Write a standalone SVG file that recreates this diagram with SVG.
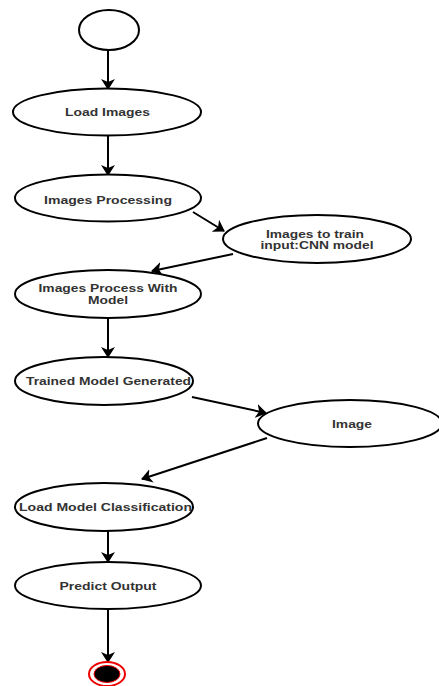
<svg xmlns="http://www.w3.org/2000/svg" width="439" height="686" viewBox="0 0 439 686">
<style>
.n{fill:#fff;stroke:#000;stroke-width:2}
.t{font-family:"Liberation Sans",Arial,sans-serif;font-weight:bold;font-size:11px;fill:#333;text-anchor:middle}
.c line{stroke:#000;stroke-width:2;fill:none}
</style>
<defs>
<marker id="a" viewBox="0 0 11 14" refX="10" refY="7" markerWidth="11" markerHeight="14" markerUnits="userSpaceOnUse" orient="auto">
<path d="M0,0 L11,7 L0,14 L3,7 z" fill="#000"/>
</marker>
</defs>
<rect width="439" height="686" fill="#fff"/>
<g class="c">
<line x1="108" y1="50" x2="108" y2="89" marker-end="url(#a)"/>
<line x1="108" y1="136" x2="108" y2="175" marker-end="url(#a)"/>
<line x1="193" y1="212" x2="224" y2="231" marker-end="url(#a)"/>
<line x1="233" y1="254" x2="152" y2="271" marker-end="url(#a)"/>
<line x1="108" y1="318" x2="108" y2="357" marker-end="url(#a)"/>
<line x1="192" y1="397" x2="266" y2="413" marker-end="url(#a)"/>
<line x1="267" y1="438" x2="142" y2="479" marker-end="url(#a)"/>
<line x1="108" y1="531" x2="108" y2="562" marker-end="url(#a)"/>
<line x1="108" y1="609" x2="108" y2="662" marker-end="url(#a)"/>
</g>
<g id="start"><ellipse class="n" cx="109" cy="30" rx="30" ry="20"/></g>
<g id="load-images"><ellipse class="n" cx="107" cy="112" rx="94" ry="23.5"/>
<text class="t" x="107.5" y="116" textLength="85" lengthAdjust="spacingAndGlyphs">Load Images</text></g>
<g id="images-processing"><ellipse class="n" cx="108" cy="198" rx="93" ry="23.5"/>
<text class="t" x="108" y="204" textLength="128" lengthAdjust="spacingAndGlyphs">Images Processing</text></g>
<g id="images-to-train"><ellipse class="n" cx="317" cy="239" rx="94" ry="24"/>
<text class="t" x="315" y="238" textLength="98" lengthAdjust="spacingAndGlyphs">Images to train</text>
<text class="t" x="317" y="249" textLength="113" lengthAdjust="spacingAndGlyphs">input:CNN model</text></g>
<g id="images-process-with-model"><ellipse class="n" cx="108" cy="294" rx="93" ry="24"/>
<text class="t" x="108" y="292" textLength="139" lengthAdjust="spacingAndGlyphs">Images Process With</text>
<text class="t" x="108" y="304" textLength="40" lengthAdjust="spacingAndGlyphs">Model</text></g>
<g id="trained-model-generated"><ellipse class="n" cx="104" cy="381" rx="89" ry="24"/>
<text class="t" x="108.5" y="385" textLength="165" lengthAdjust="spacingAndGlyphs">Trained Model Generated</text></g>
<g id="image"><ellipse class="n" cx="350" cy="423.5" rx="92" ry="23.5"/>
<text class="t" x="352" y="428" textLength="40" lengthAdjust="spacingAndGlyphs">Image</text></g>
<g id="load-model-classification"><ellipse class="n" cx="104" cy="507" rx="89" ry="24"/>
<text class="t" x="105.5" y="511" textLength="173" lengthAdjust="spacingAndGlyphs">Load Model Classification</text></g>
<g id="predict-output"><ellipse class="n" cx="108" cy="585.5" rx="93" ry="23.5"/>
<text class="t" x="108" y="590" textLength="97" lengthAdjust="spacingAndGlyphs">Predict Output</text></g>
<g id="end"><ellipse cx="107" cy="674" rx="18" ry="12" fill="#fff" stroke="#e00" stroke-width="2"/>
<ellipse cx="107" cy="674" rx="13" ry="8.5" fill="#000" stroke="#e00" stroke-width="1"/></g>
</svg>
